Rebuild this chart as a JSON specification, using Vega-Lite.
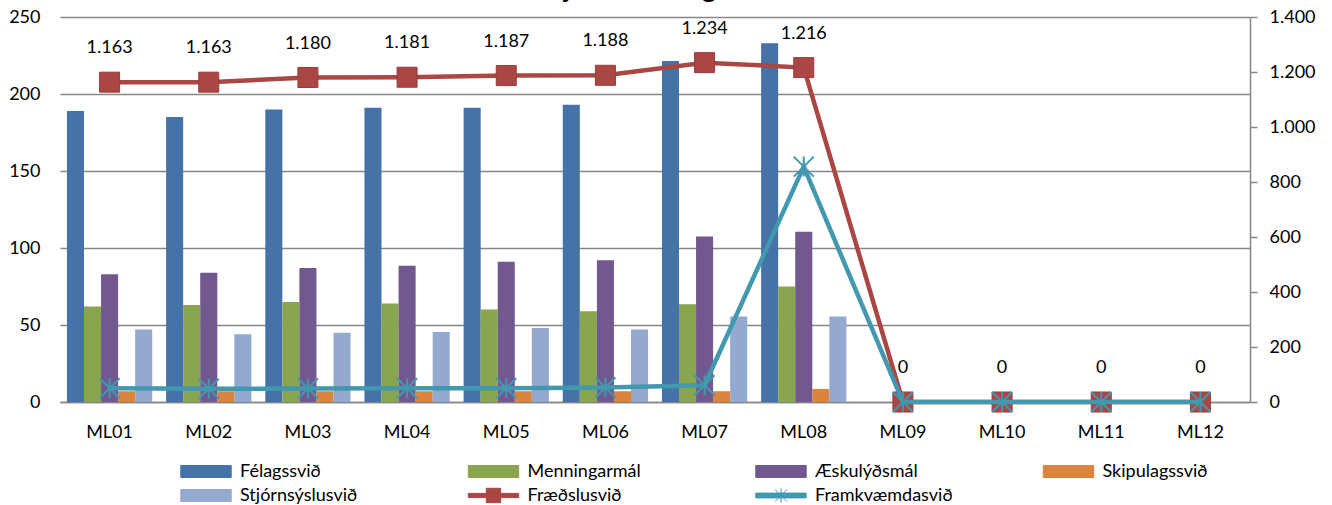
{
  "$schema": "https://vega.github.io/schema/vega-lite/v6.json",
  "width": 1190,
  "height": 385,
  "autosize": {"type": "none"},
  "padding": {"left": 60, "top": 17, "right": 82, "bottom": 103},
  "title": {"text": "Fjöldi stöðugilda", "font": "Lato", "fontSize": 30, "fontWeight": "normal", "offset": 5, "frame": "group", "anchor": "middle", "color": "#000000"},
  "datasets": {
    "bars": [
      {"m": "ML01", "s": "Félagssvið", "v": 189}, {"m": "ML01", "s": "Menningarmál", "v": 62}, {"m": "ML01", "s": "Æskulýðsmál", "v": 83}, {"m": "ML01", "s": "Skipulagssvið", "v": 7}, {"m": "ML01", "s": "Stjórnsýslusvið", "v": 47},
      {"m": "ML02", "s": "Félagssvið", "v": 185}, {"m": "ML02", "s": "Menningarmál", "v": 63}, {"m": "ML02", "s": "Æskulýðsmál", "v": 84}, {"m": "ML02", "s": "Skipulagssvið", "v": 7}, {"m": "ML02", "s": "Stjórnsýslusvið", "v": 44},
      {"m": "ML03", "s": "Félagssvið", "v": 190}, {"m": "ML03", "s": "Menningarmál", "v": 65}, {"m": "ML03", "s": "Æskulýðsmál", "v": 87}, {"m": "ML03", "s": "Skipulagssvið", "v": 7}, {"m": "ML03", "s": "Stjórnsýslusvið", "v": 45},
      {"m": "ML04", "s": "Félagssvið", "v": 191}, {"m": "ML04", "s": "Menningarmál", "v": 64}, {"m": "ML04", "s": "Æskulýðsmál", "v": 88.5}, {"m": "ML04", "s": "Skipulagssvið", "v": 7}, {"m": "ML04", "s": "Stjórnsýslusvið", "v": 45.5},
      {"m": "ML05", "s": "Félagssvið", "v": 191}, {"m": "ML05", "s": "Menningarmál", "v": 60}, {"m": "ML05", "s": "Æskulýðsmál", "v": 91}, {"m": "ML05", "s": "Skipulagssvið", "v": 7}, {"m": "ML05", "s": "Stjórnsýslusvið", "v": 48},
      {"m": "ML06", "s": "Félagssvið", "v": 193}, {"m": "ML06", "s": "Menningarmál", "v": 59}, {"m": "ML06", "s": "Æskulýðsmál", "v": 92}, {"m": "ML06", "s": "Skipulagssvið", "v": 7}, {"m": "ML06", "s": "Stjórnsýslusvið", "v": 47},
      {"m": "ML07", "s": "Félagssvið", "v": 221.5}, {"m": "ML07", "s": "Menningarmál", "v": 63.5}, {"m": "ML07", "s": "Æskulýðsmál", "v": 107.5}, {"m": "ML07", "s": "Skipulagssvið", "v": 7}, {"m": "ML07", "s": "Stjórnsýslusvið", "v": 55.5},
      {"m": "ML08", "s": "Félagssvið", "v": 233}, {"m": "ML08", "s": "Menningarmál", "v": 75}, {"m": "ML08", "s": "Æskulýðsmál", "v": 110.5}, {"m": "ML08", "s": "Skipulagssvið", "v": 8.5}, {"m": "ML08", "s": "Stjórnsýslusvið", "v": 55.5},
      {"m": "ML09", "s": "Félagssvið", "v": 0}, {"m": "ML09", "s": "Menningarmál", "v": 0}, {"m": "ML09", "s": "Æskulýðsmál", "v": 0}, {"m": "ML09", "s": "Skipulagssvið", "v": 0}, {"m": "ML09", "s": "Stjórnsýslusvið", "v": 0},
      {"m": "ML10", "s": "Félagssvið", "v": 0}, {"m": "ML10", "s": "Menningarmál", "v": 0}, {"m": "ML10", "s": "Æskulýðsmál", "v": 0}, {"m": "ML10", "s": "Skipulagssvið", "v": 0}, {"m": "ML10", "s": "Stjórnsýslusvið", "v": 0},
      {"m": "ML11", "s": "Félagssvið", "v": 0}, {"m": "ML11", "s": "Menningarmál", "v": 0}, {"m": "ML11", "s": "Æskulýðsmál", "v": 0}, {"m": "ML11", "s": "Skipulagssvið", "v": 0}, {"m": "ML11", "s": "Stjórnsýslusvið", "v": 0},
      {"m": "ML12", "s": "Félagssvið", "v": 0}, {"m": "ML12", "s": "Menningarmál", "v": 0}, {"m": "ML12", "s": "Æskulýðsmál", "v": 0}, {"m": "ML12", "s": "Skipulagssvið", "v": 0}, {"m": "ML12", "s": "Stjórnsýslusvið", "v": 0}
    ],
    "fraed": [
      {"m": "ML01", "s": "Fræðslusvið", "v": 1163}, {"m": "ML02", "s": "Fræðslusvið", "v": 1163}, {"m": "ML03", "s": "Fræðslusvið", "v": 1180}, {"m": "ML04", "s": "Fræðslusvið", "v": 1181},
      {"m": "ML05", "s": "Fræðslusvið", "v": 1187}, {"m": "ML06", "s": "Fræðslusvið", "v": 1188}, {"m": "ML07", "s": "Fræðslusvið", "v": 1234}, {"m": "ML08", "s": "Fræðslusvið", "v": 1216},
      {"m": "ML09", "s": "Fræðslusvið", "v": 0}, {"m": "ML10", "s": "Fræðslusvið", "v": 0}, {"m": "ML11", "s": "Fræðslusvið", "v": 0}, {"m": "ML12", "s": "Fræðslusvið", "v": 0}
    ],
    "framk": [
      {"m": "ML01", "s": "Framkvæmdasvið", "v": 50}, {"m": "ML02", "s": "Framkvæmdasvið", "v": 48}, {"m": "ML03", "s": "Framkvæmdasvið", "v": 49}, {"m": "ML04", "s": "Framkvæmdasvið", "v": 50},
      {"m": "ML05", "s": "Framkvæmdasvið", "v": 50}, {"m": "ML06", "s": "Framkvæmdasvið", "v": 53}, {"m": "ML07", "s": "Framkvæmdasvið", "v": 61}, {"m": "ML08", "s": "Framkvæmdasvið", "v": 856},
      {"m": "ML09", "s": "Framkvæmdasvið", "v": 0}, {"m": "ML10", "s": "Framkvæmdasvið", "v": 0}, {"m": "ML11", "s": "Framkvæmdasvið", "v": 0}, {"m": "ML12", "s": "Framkvæmdasvið", "v": 0}
    ]
  },
  "layer": [
    {
      "data": {"name": "bars"},
      "mark": {"type": "bar"},
      "encoding": {
        "x": {"field": "m", "type": "nominal", "sort": null, "scale": {"paddingInner": 0.14, "paddingOuter": 0.07}, "axis": {"title": null, "labelAngle": 0, "ticks": false, "domainColor": "#868686", "domainWidth": 1.5, "labelPadding": 21, "labelFont": "Lato", "labelFontSize": 18, "labelColor": "#000000"}},
        "xOffset": {"field": "s", "type": "nominal", "sort": ["Félagssvið", "Menningarmál", "Æskulýðsmál", "Skipulagssvið", "Stjórnsýslusvið"], "scale": {"paddingInner": 0, "paddingOuter": 0}},
        "y": {"field": "v", "type": "quantitative", "scale": {"domain": [0, 250], "nice": false}, "axis": {"title": null, "values": [0, 50, 100, 150, 200, 250], "grid": true, "gridColor": "#868686", "gridWidth": 1.5, "domain": false, "ticks": false, "tickSize": 0, "labelPadding": 20, "labelFont": "Lato", "labelFontSize": 18, "labelColor": "#000000"}},
        "color": {
          "field": "s", "type": "nominal",
          "scale": {"domain": ["Félagssvið", "Menningarmál", "Æskulýðsmál", "Skipulagssvið", "Stjórnsýslusvið", "Fræðslusvið", "Framkvæmdasvið"], "range": ["#4572A7", "#89A54E", "#71588F", "#DB843D", "#93A9CF", "#AA4643", "#4198AF"]},
          "legend": {
            "title": null, "orient": "none", "legendX": 137, "legendY": 445, "direction": "horizontal", "columns": 4, "gridAlign": "all",
            "columnPadding": 87.5, "rowPadding": 4.5, "symbolSize": 144, "labelOffset": 25, "labelFont": "Lato", "labelFontSize": 18, "labelColor": "#000000", "padding": 0,
            "encode": {"symbols": {"update": {
              "shape": {"signal": "datum.value == 'Fræðslusvið' ? 'M-4.2,-0.35H4.2V0.35H-4.2Z M-1.2,-1.2H1.2V1.2H-1.2Z' : datum.value == 'Framkvæmdasvið' ? 'M-4.2,-0.4H4.2V0.4H-4.2Z M-1,-1L1,1 M-1,1L1,-1 M0,-1.2L0,1.2' : 'M-4.2,-1H4.2V1H-4.2Z'"},
              "fill": {"scale": "color", "field": "value"},
              "stroke": {"scale": "color", "field": "value"},
              "strokeWidth": {"value": 1},
              "opacity": {"value": 1},
              "fillOpacity": {"value": 1}
            }}}
          }
        }
      }
    },
    {
      "layer": [
        {
          "data": {"name": "fraed"},
          "mark": {"type": "line", "strokeWidth": 4.5},
          "encoding": {"x": {"field": "m", "type": "nominal", "sort": null}, "y": {"field": "v", "type": "quantitative"}, "color": {"field": "s", "type": "nominal"}}
        },
        {
          "data": {"name": "fraed"},
          "mark": {"type": "point", "shape": "square", "size": 400, "filled": true, "opacity": 1, "stroke": "#9a3b38", "strokeWidth": 1},
          "encoding": {"x": {"field": "m", "type": "nominal", "sort": null}, "y": {"field": "v", "type": "quantitative"}, "color": {"field": "s", "type": "nominal"}}
        },
        {
          "data": {"name": "fraed"},
          "mark": {"type": "text", "dy": -34, "baseline": "middle", "font": "Lato", "fontSize": 18, "color": "#000000"},
          "encoding": {"x": {"field": "m", "type": "nominal", "sort": null}, "y": {"field": "v", "type": "quantitative"}, "text": {"field": "v", "type": "quantitative", "format": ",d"}}
        },
        {
          "data": {"name": "framk"},
          "mark": {"type": "line", "strokeWidth": 4.5},
          "encoding": {"x": {"field": "m", "type": "nominal", "sort": null}, "y": {"field": "v", "type": "quantitative"}, "color": {"field": "s", "type": "nominal"}}
        },
        {
          "data": {"name": "framk"},
          "mark": {"type": "point", "shape": "M-1,-1L1,1M-1,1L1,-1M0,-1L0,1", "size": 400, "filled": false, "opacity": 1, "strokeWidth": 2},
          "encoding": {"x": {"field": "m", "type": "nominal", "sort": null}, "y": {"field": "v", "type": "quantitative"}, "color": {"field": "s", "type": "nominal"}}
        }
      ],
      "encoding": {
        "y": {"field": "v", "type": "quantitative", "scale": {"domain": [0, 1400], "nice": false}, "axis": {"orient": "right", "title": null, "values": [0, 200, 400, 600, 800, 1000, 1200, 1400], "format": ",d", "grid": false, "domain": true, "domainColor": "#868686", "domainWidth": 1.5, "ticks": true, "tickSize": 7, "tickColor": "#868686", "tickWidth": 1.5, "labelPadding": 12, "labelFont": "Lato", "labelFontSize": 18, "labelColor": "#000000"}}
      }
    }
  ],
  "resolve": {"scale": {"y": "independent"}},
  "config": {
    "locale": {"number": {"decimal": ",", "thousands": ".", "grouping": [3], "currency": ["", ""]}},
    "view": {"stroke": null},
    "font": "Lato"
  }
}
